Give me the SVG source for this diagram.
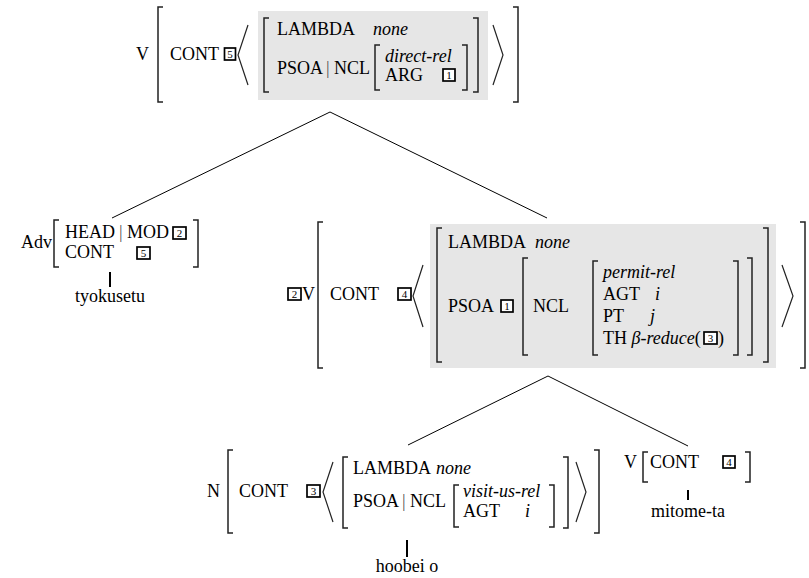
<svg xmlns="http://www.w3.org/2000/svg" width="809" height="578" viewBox="0 0 809 578">
  <style>
    text { font-family: "Liberation Serif", "Times New Roman", serif; font-size: 18px; fill: #000; }
    .it { font-style: italic; }
    .sep { fill: #555; }
    .br { fill: none; stroke: #222; stroke-width: 1.5; }
    .ang { fill: none; stroke: #222; stroke-width: 1.2; }
    .shade { fill: #e6e6e6; }
    .tag rect { fill: #fff; stroke: #000; stroke-width: 1.7; }
    .tag text { font-size: 11px; text-anchor: middle; }
    .edge { fill: none; stroke: #000; stroke-width: 1; }
    .tick { stroke: #000; stroke-width: 2; }
    .word { text-anchor: middle; }
  </style>

  <!-- tree edges -->
  <g id="connectors">
    <path class="edge" d="M112,218 L330,112 L547,218"/>
    <path class="edge" d="M408,445 L548,376 L688,446"/>
    <line class="tick" x1="110" y1="272" x2="110" y2="287"/>
    <line class="tick" x1="407" y1="540" x2="407" y2="557"/>
    <line class="tick" x1="688" y1="490" x2="688" y2="500"/>
  </g>

  <!-- root: V [CONT 5 < [LAMBDA none, PSOA|NCL [direct-rel, ARG 1]] >] -->
  <g id="node-root">
    <text x="136" y="60">V</text>
    <path class="br" d="M163,7 H158 V102 H163"/>
    <text x="170" y="60">CONT</text>
    <g class="tag"><rect x="224.5" y="48" width="11" height="12"/><text x="230" y="58">5</text></g>
    <path class="ang" d="M248,25 L238,55 L248,85"/>
    <rect class="shade" x="258" y="11" width="230" height="89"/>
    <path class="br" d="M269,18 H264 V92 H269"/>
    <text x="277" y="35">LAMBDA</text>
    <text class="it" x="373" y="35">none</text>
    <text x="277" y="74">PSOA</text>
    <text class="sep" x="326" y="74">|</text>
    <text x="334" y="74">NCL</text>
    <path class="br" d="M380,45 H375 V90 H380"/>
    <text class="it" x="385" y="62">direct-rel</text>
    <text x="385" y="81">ARG</text>
    <g class="tag"><rect x="443" y="69" width="12" height="12"/><text x="449" y="79">1</text></g>
    <path class="br" d="M462,45 H467 V90 H462"/>
    <path class="br" d="M473,18 H478 V92 H473"/>
    <path class="ang" d="M493,25 L503,55 L493,85"/>
    <path class="br" d="M513,7 H518 V102 H513"/>
  </g>

  <!-- Adv [HEAD|MOD 2, CONT 5] -->
  <g id="node-adv">
    <text x="21" y="248">Adv</text>
    <path class="br" d="M59,220 H54 V267 H59"/>
    <text x="65" y="238">HEAD</text>
    <text class="sep" x="119" y="238">|</text>
    <text x="127" y="238">MOD</text>
    <g class="tag"><rect x="173" y="227" width="13" height="12"/><text x="179.5" y="237">2</text></g>
    <text x="65" y="258">CONT</text>
    <g class="tag"><rect x="137" y="247" width="13" height="12"/><text x="143.5" y="257">5</text></g>
    <path class="br" d="M193,220 H198 V267 H193"/>
    <text class="word" x="110" y="302">tyokusetu</text>
  </g>

  <!-- 2 V [CONT 4 < [LAMBDA none, PSOA 1 [NCL [permit-rel ...]]] >] -->
  <g id="node-v-mid">
    <g class="tag"><rect x="288" y="288" width="13" height="12"/><text x="294.5" y="298">2</text></g>
    <text x="302" y="300">V</text>
    <path class="br" d="M323,222 H318 V368 H323"/>
    <text x="330" y="300">CONT</text>
    <g class="tag"><rect x="398" y="288" width="13" height="12"/><text x="404.5" y="298">4</text></g>
    <path class="ang" d="M423,265 L413,296 L423,327"/>
    <rect class="shade" x="430" y="224" width="346" height="144"/>
    <path class="br" d="M442,228 H437 V362 H442"/>
    <text x="448" y="248">LAMBDA</text>
    <text class="it" x="535" y="248">none</text>
    <text x="448" y="312">PSOA</text>
    <g class="tag"><rect x="501" y="300" width="12" height="12"/><text x="507" y="310">1</text></g>
    <path class="br" d="M528,258 H523 V355 H528"/>
    <text x="533" y="312">NCL</text>
    <path class="br" d="M598,261 H593 V355 H598"/>
    <text class="it" x="603" y="278">permit-rel</text>
    <text x="603" y="300">AGT</text>
    <text class="it" x="655" y="300">i</text>
    <text x="603" y="322">PT</text>
    <text class="it" x="650" y="322">j</text>
    <text x="603" y="344">TH <tspan class="it">β-reduce</tspan>(</text>
    <g class="tag"><rect x="704" y="332" width="13" height="12"/><text x="710.5" y="342">3</text></g>
    <text x="718" y="344">)</text>
    <path class="br" d="M733,261 H738 V355 H733"/>
    <path class="br" d="M747,258 H752 V355 H747"/>
    <path class="br" d="M763,228 H768 V362 H763"/>
    <path class="ang" d="M782,265 L793,296 L782,327"/>
    <path class="br" d="M800,222 H805 V368 H800"/>
  </g>

  <!-- N [CONT 3 < [LAMBDA none, PSOA|NCL [visit-us-rel, AGT i]] >] -->
  <g id="node-n">
    <text x="207" y="497">N</text>
    <path class="br" d="M233,450 H228 V533 H233"/>
    <text x="239" y="497">CONT</text>
    <g class="tag"><rect x="307" y="485" width="13" height="12"/><text x="313.5" y="495">3</text></g>
    <path class="ang" d="M333,462 L323,492 L333,522"/>
    <path class="br" d="M348,457 H343 V528 H348"/>
    <text x="353" y="474">LAMBDA</text>
    <text class="it" x="436" y="474">none</text>
    <text x="353" y="507">PSOA</text>
    <text class="sep" x="402" y="507">|</text>
    <text x="410" y="507">NCL</text>
    <path class="br" d="M459,485 H454 V527 H459"/>
    <text class="it" x="463" y="497">visit-us-rel</text>
    <text x="463" y="517">AGT</text>
    <text class="it" x="525" y="517">i</text>
    <path class="br" d="M549,485 H554 V527 H549"/>
    <path class="br" d="M563,457 H568 V528 H563"/>
    <path class="ang" d="M576,462 L586,492 L576,522"/>
    <path class="br" d="M594,450 H599 V533 H594"/>
    <text class="word" x="407" y="572">hoobei o</text>
  </g>

  <!-- V [CONT 4] -->
  <g id="node-v-leaf">
    <text x="624" y="468">V</text>
    <path class="br" d="M648,452 H643 V482 H648"/>
    <text x="650" y="468">CONT</text>
    <g class="tag"><rect x="723" y="456" width="12" height="12"/><text x="729" y="466">4</text></g>
    <path class="br" d="M745,452 H750 V482 H745"/>
    <text class="word" x="688" y="517">mitome-ta</text>
  </g>
</svg>
